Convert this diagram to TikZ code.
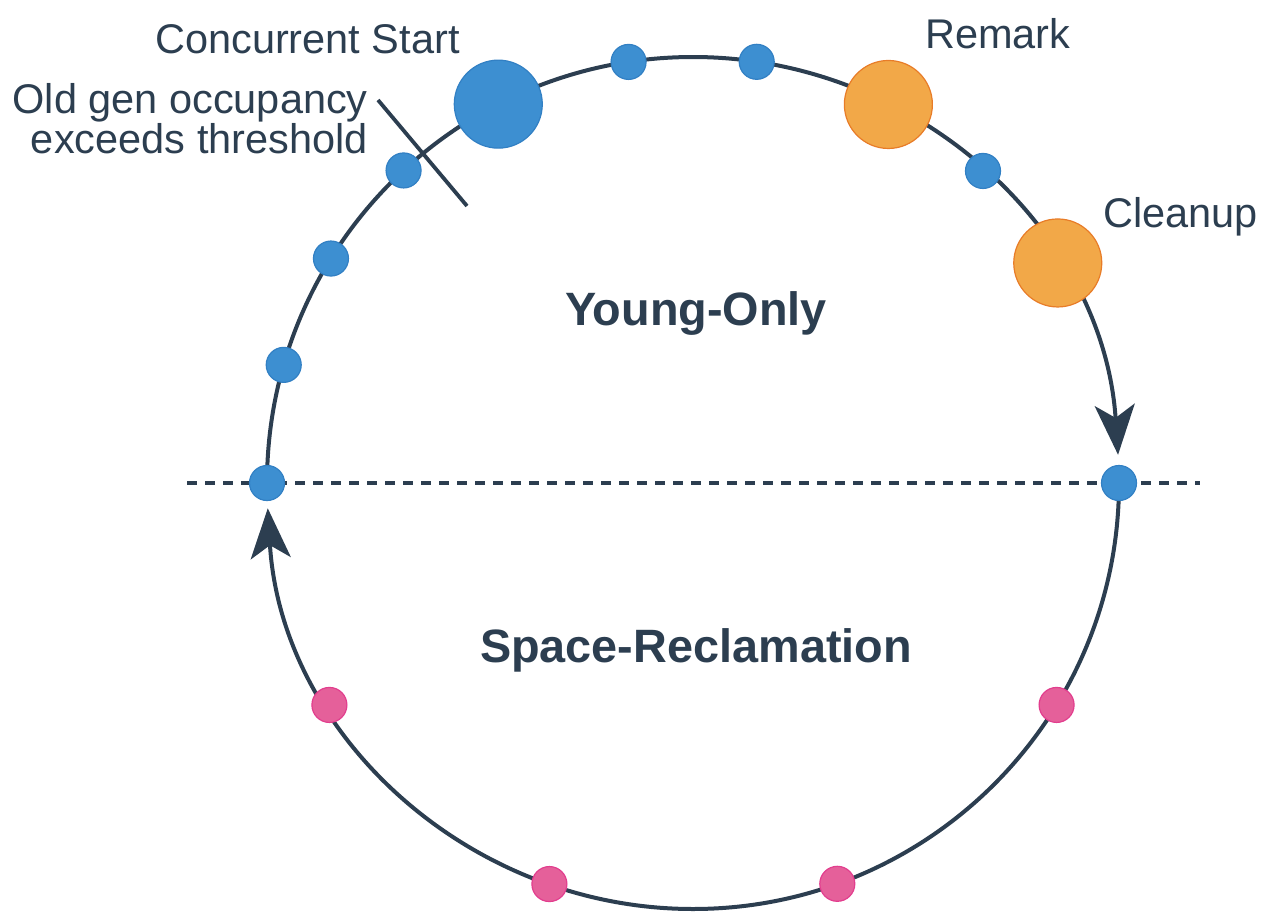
\documentclass[tikz,border=0pt]{standalone}
\usepackage{fontspec}
\setmainfont{Liberation Sans}
\usetikzlibrary{arrows.meta}
\definecolor{ink}{RGB}{44,62,80}
\definecolor{gcblue}{RGB}{61,143,209}
\definecolor{gcblueedge}{RGB}{50,128,196}
\definecolor{gcorange}{RGB}{242,168,72}
\definecolor{gcorangeedge}{RGB}{232,124,40}
\definecolor{gcpink}{RGB}{229,96,154}
\definecolor{gcpinkedge}{RGB}{226,62,142}
\begin{document}
\begin{tikzpicture}[x=1pt,y=1pt,
  ring/.style={draw=ink, line width=4pt},
  dot/.style={circle, inner sep=0pt, minimum size=35pt, line width=1.2pt},
  bigdot/.style={dot, minimum size=88pt},
  bluedot/.style={fill=gcblue, draw=gcblueedge},
  orangedot/.style={fill=gcorange, draw=gcorangeedge},
  pinkdot/.style={fill=gcpink, draw=gcpinkedge},
  lbl/.style={text=ink, inner sep=0pt, font=\fontsize{41.5}{48}\selectfont},
  phase/.style={text=ink, inner sep=0pt, font=\fontsize{46.8}{54}\selectfont\bfseries},
  tip/.style={-{Stealth[length=50pt,width=40pt,inset=13pt]}}
]
\useasboundingbox (0,0) rectangle (1280,-921);
\coordinate (O) at (693,-483);
% positions on the ring
\coordinate (pL) at ([shift={(180:426)}]O);
\coordinate (pR) at ([shift={(0:426)}]O);
% ring arcs with arrows
\draw[ring, tip] (pL) arc[start angle=180, end angle=3.8, radius=426pt];
\draw[ring, tip] (pR) arc[start angle=0, end angle=-176.6, radius=426pt];
% dashed divider
\coordinate (d1) at (187,-483);
\coordinate (d2) at (1200,-483);
\draw[draw=ink, line width=3.4pt, dash pattern=on 10pt off 8pt] (d1) -- (d2);
% threshold cross mark
\coordinate (x1) at (378,-100);
\coordinate (x2) at (467,-206);
\draw[draw=ink, line width=3.8pt] (x1) -- (x2);
% dots
\node[dot, bluedot] (bL) at (pL) {};
\node[dot, bluedot] (bR) at (pR) {};
\node[dot, bluedot] (b164) at ([shift={(163.9:426)}]O) {};
\node[dot, bluedot] (b148) at ([shift={(148.2:426)}]O) {};
\node[dot, bluedot] (b133) at ([shift={(132.8:426)}]O) {};
\node[bigdot, bluedot] (cs) at ([shift={(117.2:426)}]O) {};
\node[dot, bluedot] (b99) at ([shift={(98.7:426)}]O) {};
\node[dot, bluedot] (b81) at ([shift={(81.4:426)}]O) {};
\node[bigdot, orangedot] (rm) at ([shift={(62.7:426)}]O) {};
\node[dot, bluedot] (b47) at ([shift={(47.1:426)}]O) {};
\node[bigdot, orangedot] (cl) at ([shift={(31.1:426)}]O) {};
\node[dot, pinkdot] (p1) at ([shift={(211.4:426)}]O) {};
\node[dot, pinkdot] (p2) at ([shift={(250.3:426)}]O) {};
\node[dot, pinkdot] (p3) at ([shift={(289.8:426)}]O) {};
\node[dot, pinkdot] (p4) at ([shift={(328.6:426)}]O) {};
% labels
\node[lbl, anchor=base west] (tcs) at (155,-53) {Concurrent Start};
\node[lbl, anchor=base east] (told1) at (368,-113) {Old gen occupancy};
\node[lbl, anchor=base east] (told2) at (368,-153) {exceeds threshold};
\node[lbl, anchor=base west] (trm) at (925,-48) {Remark};
\node[lbl, anchor=base west] (tcl) at (1103,-227) {Cleanup};
\node[phase, anchor=base] (tyo) at (696,-325) {Young-Only};
\node[phase, anchor=base] (tsr) at (696,-662) {Space-Reclamation};
\end{tikzpicture}
\end{document}
